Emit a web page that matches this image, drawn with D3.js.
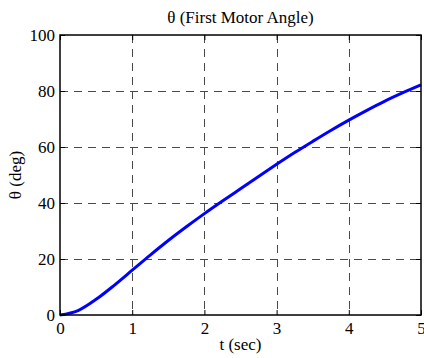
<!DOCTYPE html>
<html>
<head>
<meta charset="utf-8">
<script src="https://cdn.jsdelivr.net/npm/d3@7/dist/d3.min.js"></script>
<style>
  html, body { margin: 0; padding: 0; background: #fff; }
  svg { display: block; }
  text { font-family: "Liberation Serif", "Times New Roman", serif; fill: #000; }
</style>
</head>
<body>
<svg id="chart" width="424" height="358"></svg>
<script>
// Motor angle response, sampled every 0.25 s
const timeSec = [0, 0.25, 0.5, 0.75, 1.0, 1.25, 1.5, 1.75, 2.0, 2.25, 2.5,
                 2.75, 3.0, 3.25, 3.5, 3.75, 4.0, 4.25, 4.5, 4.75, 5.0];
const thetaDeg = [0, 1.6, 5.6, 10.6, 16.0, 21.4, 26.6, 31.5, 36.2, 40.7, 45.1,
                  49.5, 53.8, 58.0, 62.0, 65.9, 69.6, 73.1, 76.4, 79.4, 82.2];
const xTicks = [0, 1, 2, 3, 4, 5];
const yTicks = [0, 20, 40, 60, 80, 100];

const titleText = "\u03b8 (First Motor Angle)";
const xLabelText = "t (sec)";
const yLabelText = "\u03b8 (deg)";

const svg = d3.select("#chart");
const plotL = 60, plotR = 421, plotT = 35, plotB = 315;

const x = d3.scaleLinear().domain([0, 5]).range([plotL, plotR]);
const y = d3.scaleLinear().domain([0, 100]).range([plotB, plotT]);

const fontSize = 17;
const serif = "'Liberation Serif', 'Times New Roman', serif";

// dashed grid
const grid = svg.append("g").attr("stroke", "#4a4a4a").attr("stroke-width", 1)
  .attr("stroke-dasharray", "8,6").attr("fill", "none");
grid.selectAll("line.gx").data(xTicks.slice(1, -1)).join("line")
  .attr("class", "gx")
  .attr("x1", d => Math.round(x(d)) + 0.5).attr("x2", d => Math.round(x(d)) + 0.5)
  .attr("y1", plotT).attr("y2", plotB);
grid.selectAll("line.gy").data(yTicks.slice(1, -1)).join("line")
  .attr("class", "gy")
  .attr("y1", d => Math.round(y(d)) + 0.5).attr("y2", d => Math.round(y(d)) + 0.5)
  .attr("x1", plotL).attr("x2", plotR);

// curve
const line = d3.line().x((d, i) => x(timeSec[i])).y(d => y(d)).curve(d3.curveMonotoneX);
svg.append("path").datum(thetaDeg)
  .attr("d", line)
  .attr("fill", "none")
  .attr("stroke", "#0000ff")
  .attr("stroke-width", 3)
  .attr("stroke-linejoin", "round");

// axes with inward ticks
const styleAxis = g => {
  g.attr("font-family", serif).attr("font-size", fontSize);
  g.select(".domain").remove();
  g.selectAll(".tick line").attr("stroke", "#000").attr("stroke-width", 1);
  g.selectAll(".tick text").style("font-size", fontSize + "px")
    .style("font-family", serif).attr("fill", "#000");
};

svg.append("g").attr("transform", `translate(0,${plotB})`)
  .call(d3.axisBottom(x).tickValues(xTicks).tickFormat(d3.format("d"))
    .tickSizeInner(-5).tickSizeOuter(0).tickPadding(7))
  .call(styleAxis);
svg.append("g").attr("transform", `translate(0,${plotT})`)
  .call(d3.axisTop(x).tickValues(xTicks).tickFormat("")
    .tickSizeInner(-5).tickSizeOuter(0))
  .call(styleAxis);
svg.append("g").attr("transform", `translate(${plotL},0)`)
  .call(d3.axisLeft(y).tickValues(yTicks).tickFormat(d3.format("d"))
    .tickSizeInner(-5).tickSizeOuter(0).tickPadding(5))
  .call(styleAxis);
svg.append("g").attr("transform", `translate(${plotR},0)`)
  .call(d3.axisRight(y).tickValues(yTicks).tickFormat("")
    .tickSizeInner(-5).tickSizeOuter(0))
  .call(styleAxis);

// box
svg.append("rect")
  .attr("x", plotL).attr("y", plotT)
  .attr("width", plotR - plotL).attr("height", plotB - plotT)
  .attr("fill", "none").attr("stroke", "#000").attr("stroke-width", 1.5);

// labels
svg.append("text").attr("x", (plotL + plotR) / 2).attr("y", 23)
  .attr("text-anchor", "middle").style("font-size", fontSize + "px").text(titleText);
svg.append("text").attr("x", (plotL + plotR) / 2).attr("y", 350)
  .attr("text-anchor", "middle").style("font-size", fontSize + "px").text(xLabelText);
svg.append("text")
  .attr("transform", `translate(21,${(plotT + plotB) / 2}) rotate(-90)`)
  .attr("text-anchor", "middle").style("font-size", fontSize + "px").text(yLabelText);
</script>
</body>
</html>
